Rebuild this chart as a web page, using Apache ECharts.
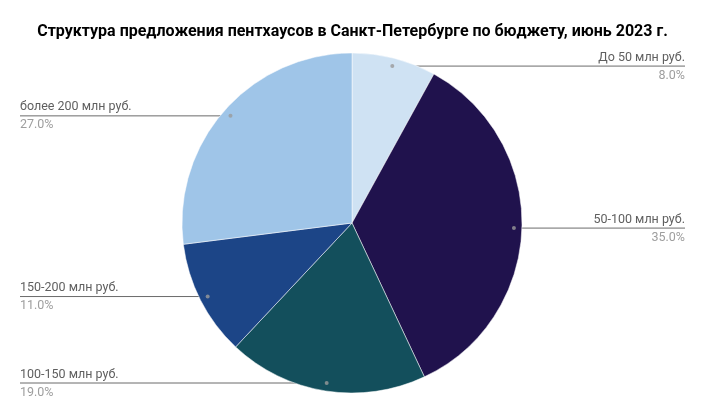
<!DOCTYPE html>
<html><head><meta charset="utf-8">
<script src="https://cdn.jsdelivr.net/npm/echarts@6/dist/echarts.min.js"></script>
<style>html,body{margin:0;padding:0;background:#fff}#c{width:705px;height:414px}</style>
</head><body><div id="c"></div>
<script>
const categories = ['До 50 млн руб.', '50-100 млн руб.', '100-150 млн руб.', '150-200 млн руб.', 'более 200 млн руб.'];
const values = [8, 35, 19, 11, 27];
const colors = ['#cfe2f3', '#20124d', '#134f5c', '#1c4587', '#9fc5e8'];
const titleText = 'Структура предложения пентхаусов в Санкт-Петербурге по бюджету, июнь 2023 г.';

const chart = echarts.init(document.getElementById('c'));
const W = 705;
const total = values.reduce((a, b) => a + b, 0);
let cum = 0;
const dots = values.map(v => { const mid = cum + v / 2; cum += v; return [162, mid / total * 100]; });

const pieData = categories.map((n, i) => ({ name: n, value: values[i], itemStyle: { color: colors[i] } }));

chart.setOption({
  animation: false,
  title: { text: titleText, left: 'center', top: 19, textStyle: { fontFamily: 'Roboto', fontWeight: 'bold', fontSize: 16, color: '#000' } },
  polar: { center: [352, 223], radius: 170 },
  angleAxis: { type: 'value', min: 0, max: 100, startAngle: 90, clockwise: true, show: false },
  radiusAxis: { type: 'value', min: 0, max: 170, show: false },
  series: [
    {
      type: 'pie', center: [352, 223], radius: 170, startAngle: 90, clockwise: true,
      data: pieData, label: { show: false }, labelLine: { show: false },
      itemStyle: { borderColor: '#fff', borderWidth: 0.5 }, emphasis: { disabled: true }, silent: true
    },
    {
      type: 'pie', center: [352, 223], radius: 162, startAngle: 90, clockwise: true,
      data: categories.map((n, i) => ({ name: n, value: values[i] })),
      itemStyle: { color: 'rgba(0,0,0,0)' }, emphasis: { disabled: true }, silent: true,
      label: {
        show: true, position: 'outside', alignTo: 'edge', edgeDistance: 20,
        formatter: p => '{n|' + p.name + '}\n{p|' + (p.value / total * 100).toFixed(1) + '%}',
        rich: {
          n: { fontFamily: 'Roboto', fontSize: 12.5, color: '#5f5f5f', lineHeight: 19 },
          p: { fontFamily: 'Roboto', fontSize: 12.5, color: '#9e9e9e', lineHeight: 17 }
        }
      },
      labelLine: { show: true, length: 0, length2: 10, smooth: false, lineStyle: { color: '#6b6b6b', width: 1 } },
      labelLayout: function (params) {
        const isLeft = params.labelRect.x < W / 2;
        const pts = params.labelLinePoints;
        if (pts) {
          pts[2][0] = isLeft ? params.labelRect.x : params.labelRect.x + params.labelRect.width;
        }
        return { labelLinePoints: pts };
      }
    },
    {
      type: 'scatter', coordinateSystem: 'polar', data: dots, symbolSize: 4,
      itemStyle: { color: '#9a9a9a' }, silent: true, z: 5
    }
  ]
});
</script></body></html>
